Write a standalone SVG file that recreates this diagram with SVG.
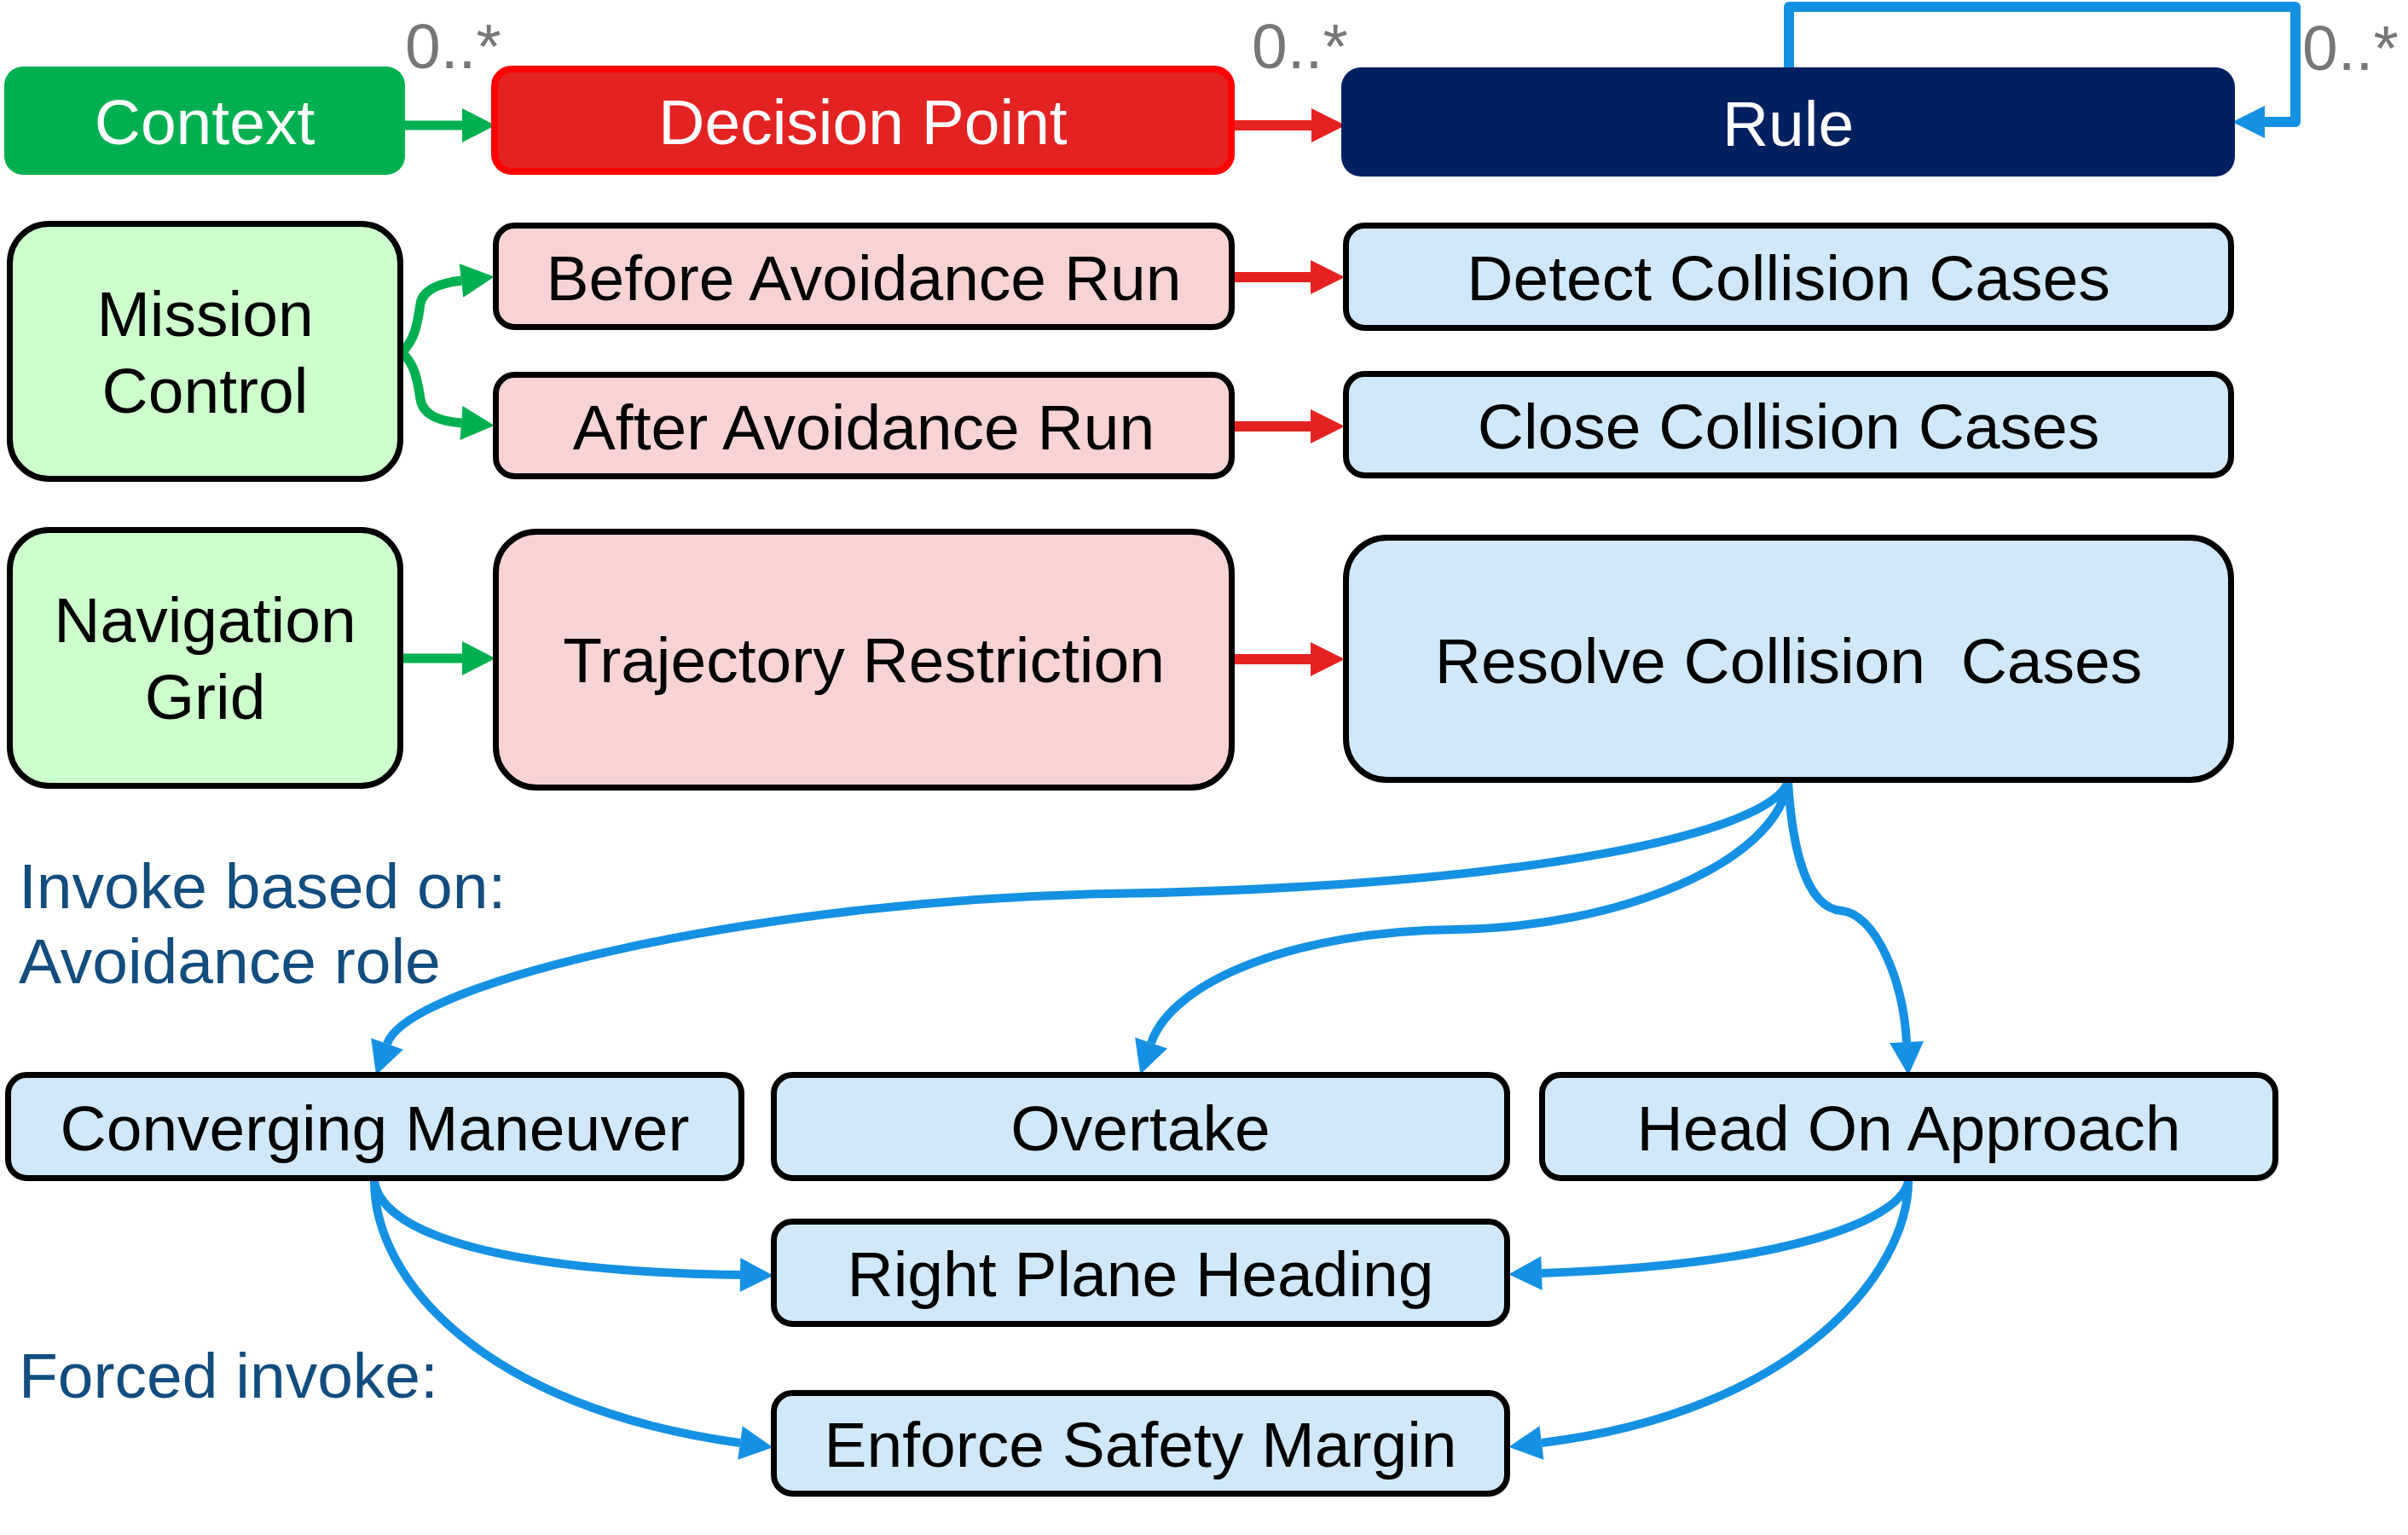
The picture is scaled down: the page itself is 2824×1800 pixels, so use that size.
<svg xmlns="http://www.w3.org/2000/svg" width="2824" height="1800" viewBox="0 0 2824 1800">
<style>
text{font-family:"Liberation Sans",Arial,sans-serif;font-size:75px;text-anchor:middle;white-space:pre}
.w{fill:#FFFFFF}
.k{fill:#000000}
.mult{fill:#767676;text-anchor:start}
.note{fill:#124D7E;text-anchor:start}
.box{stroke:#000000;stroke-width:7}
.lg{fill:#CCFFCC}
.pk{fill:#F8D3D3}
.lb{fill:#D0E8FA}
.g{fill:none;stroke:#00B050;stroke-width:11}
.r{fill:none;stroke:#E52222;stroke-width:12}
.b{fill:none;stroke:#1591E3;stroke-width:10}
.loop{fill:none;stroke:#1591E3;stroke-width:12;stroke-linejoin:round}
</style>
<defs>
<marker id="ag" markerUnits="userSpaceOnUse" markerWidth="40" markerHeight="40" viewBox="0 0 38 39" refX="0" refY="19.5" orient="auto"><path d="M0,0 L38,19.5 L0,39 z" fill="#00B050"/></marker>
<marker id="ar" markerUnits="userSpaceOnUse" markerWidth="40" markerHeight="40" viewBox="0 0 39 39" refX="0" refY="19.5" orient="auto"><path d="M0,0 L39,19.5 L0,39 z" fill="#E52222"/></marker>
<marker id="ab" markerUnits="userSpaceOnUse" markerWidth="40" markerHeight="40" viewBox="0 0 37 38" refX="0" refY="19" orient="auto"><path d="M0,0 L37,19 L0,38 z" fill="#1591E3"/></marker>
</defs>
<rect width="2824" height="1800" fill="#FFFFFF"/>

<g id="connectors">
<path class="g" d="M475,147 H542" marker-end="url(#ag)"/>
<path class="r" d="M1448,147 H1538" marker-end="url(#ar)"/>
<path class="loop" d="M2098,79 V8 H2692 V143 H2656"/>
<path d="M2618,143 L2656,124 L2656,162 z" fill="#1591E3"/>
<path class="g" d="M471,413 C488,398 490,375 493,356 C496,340 515,332 541,329" marker-end="url(#ag)"/>
<path class="g" d="M471,413 C488,428 490,450 493,468 C496,487 515,494 541,496" marker-end="url(#ag)"/>
<path class="r" d="M1448,325 H1537" marker-end="url(#ar)"/>
<path class="r" d="M1448,500 H1537" marker-end="url(#ar)"/>
<path class="g" d="M473,772 H542" marker-end="url(#ag)"/>
<path class="r" d="M1448,773 H1537" marker-end="url(#ar)"/>
<path class="b" d="M2097,916 C2080,975 1800,1040 1300,1048 C900,1055 480,1150 454,1224" marker-end="url(#ab)"/>
<path class="b" d="M2097,916 C2085,1010 1900,1088 1705,1090 C1520,1092 1375,1150 1350,1223" marker-end="url(#ab)"/>
<path class="b" d="M2097,916 C2102,1000 2120,1065 2160,1068 C2200,1072 2232,1150 2236,1222" marker-end="url(#ab)"/>
<path class="b" d="M439,1385 C447,1440 560,1490 868,1495" marker-end="url(#ab)"/>
<path class="b" d="M439,1385 C439,1500 565,1650 868,1692" marker-end="url(#ab)"/>
<path class="b" d="M2238,1385 C2231,1425 2120,1482 1808,1493" marker-end="url(#ab)"/>
<path class="b" d="M2238,1385 C2238,1490 2110,1655 1808,1692" marker-end="url(#ab)"/>
</g>

<g id="mult-labels">
<text class="mult" x="475" y="80">0..*</text>
<text class="mult" x="1468" y="80">0..*</text>
<text class="mult" x="2700" y="82">0..*</text>
</g>

<g id="context">
<rect x="5" y="78" width="470" height="127" rx="22" fill="#00B050"/>
<text class="w" x="240" y="169">Context</text>
</g>
<g id="decision-point">
<rect x="580" y="81" width="864" height="120" rx="20" fill="#E32222" stroke="#FF0000" stroke-width="8"/>
<text class="w" x="1012" y="169">Decision Point</text>
</g>
<g id="rule">
<rect x="1573" y="79" width="1048" height="128" rx="23" fill="#002060"/>
<text class="w" x="2097" y="171">Rule</text>
</g>

<g id="mission-control">
<rect class="box lg" x="11.5" y="262.5" width="458" height="299" rx="46"/>
<text class="k" x="240.5" y="394">Mission</text>
<text class="k" x="240.5" y="484">Control</text>
</g>
<g id="before-avoidance-run">
<rect class="box pk" x="581.5" y="264.5" width="863" height="119" rx="22"/>
<text class="k" x="1013" y="352">Before Avoidance Run</text>
</g>
<g id="after-avoidance-run">
<rect class="box pk" x="581.5" y="439.5" width="863" height="119" rx="22"/>
<text class="k" x="1013" y="527">After Avoidance Run</text>
</g>
<g id="detect-collision-cases">
<rect class="box lb" x="1578.5" y="264.5" width="1038" height="120" rx="22"/>
<text class="k" x="2097.5" y="352">Detect Collision Cases</text>
</g>
<g id="close-collision-cases">
<rect class="box lb" x="1578.5" y="438.5" width="1038" height="119" rx="22"/>
<text class="k" x="2097.5" y="526">Close Collision Cases</text>
</g>

<g id="navigation-grid">
<rect class="box lg" x="11.5" y="621.5" width="458" height="300" rx="46"/>
<text class="k" x="240.5" y="753">Navigation</text>
<text class="k" x="240.5" y="843">Grid</text>
</g>
<g id="trajectory-restriction">
<rect class="box pk" x="581.5" y="623.5" width="863" height="300" rx="48"/>
<text class="k" x="1013" y="800">Trajectory Restriction</text>
</g>
<g id="resolve-collision-cases">
<rect class="box lb" x="1578.5" y="630.5" width="1038" height="284" rx="48"/>
<text class="k" x="2097.5" y="801" xml:space="preserve">Resolve Collision  Cases</text>
</g>

<g id="notes">
<text class="note" x="22" y="1065">Invoke based on:</text>
<text class="note" x="22" y="1153">Avoidance role</text>
<text class="note" x="22" y="1639">Forced invoke:</text>
</g>

<g id="converging-maneuver">
<rect class="box lb" x="9.5" y="1260.5" width="860" height="121" rx="22"/>
<text class="k" x="439.5" y="1349">Converging Maneuver</text>
</g>
<g id="overtake">
<rect class="box lb" x="907.5" y="1260.5" width="860" height="121" rx="22"/>
<text class="k" x="1337.5" y="1349">Overtake</text>
</g>
<g id="head-on-approach">
<rect class="box lb" x="1808.5" y="1260.5" width="860" height="121" rx="22"/>
<text class="k" x="2238.5" y="1349">Head On Approach</text>
</g>
<g id="right-plane-heading">
<rect class="box lb" x="907.5" y="1432.5" width="860" height="120" rx="22"/>
<text class="k" x="1337.5" y="1520">Right Plane Heading</text>
</g>
<g id="enforce-safety-margin">
<rect class="box lb" x="907.5" y="1633.5" width="860" height="118" rx="22"/>
<text class="k" x="1337.5" y="1720">Enforce Safety Margin</text>
</g>
</svg>
